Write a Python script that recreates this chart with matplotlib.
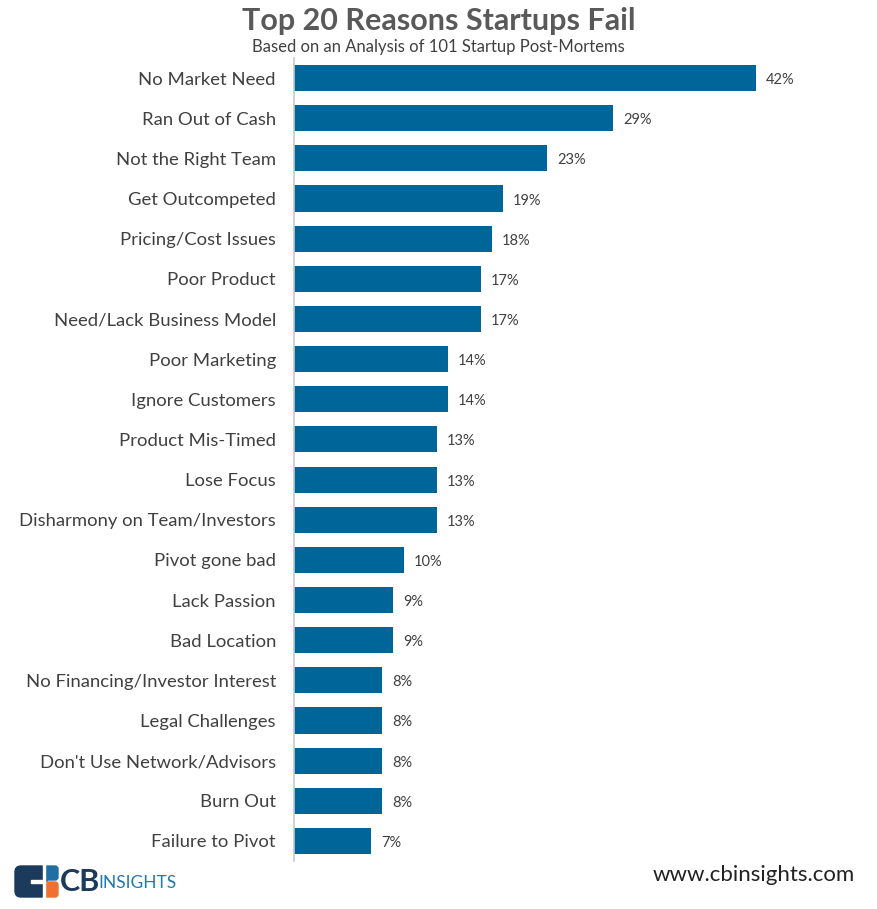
import matplotlib.pyplot as plt
from matplotlib.patches import FancyBboxPatch, Rectangle

# -----------------------------
# Data
# -----------------------------
reasons = [
    "No Market Need", "Ran Out of Cash", "Not the Right Team", "Get Outcompeted",
    "Pricing/Cost Issues", "Poor Product", "Need/Lack Business Model",
    "Poor Marketing", "Ignore Customers", "Product Mis-Timed", "Lose Focus",
    "Disharmony on Team/Investors", "Pivot gone bad", "Lack Passion",
    "Bad Location", "No Financing/Investor Interest", "Legal Challenges",
    "Don't Use Network/Advisors", "Burn Out", "Failure to Pivot",
]
pct = [42, 29, 23, 19, 18, 17, 17, 14, 14, 13, 13, 13, 10, 9, 9, 8, 8, 8, 8, 7]

title = "Top 20 Reasons Startups Fail"
subtitle = "Based on an Analysis of 101 Startup Post-Mortems"

bar_color = "#00669a"
text_color = "#404040"
plt.rcParams['font.family'] = ['Lato', 'DejaVu Sans']

# -----------------------------
# Figure / axes
# -----------------------------
fig = plt.figure(figsize=(8.77, 9.09), dpi=100)
ax = fig.add_axes([294 / 877, 1 - 861 / 909, 550 / 877, 803 / 909])

y = list(range(len(reasons)))
ax.barh(y, pct, height=0.65, color=bar_color, zorder=2)
ax.set_ylim(len(reasons) - 0.5, -0.5)
ax.set_xlim(0, 50)

ax.set_yticks(y)
ax.set_yticklabels(reasons, fontsize=13.3, color=text_color)
ax.tick_params(axis='y', length=0, pad=13)
ax.set_xticks([])

for s in ["top", "right", "bottom"]:
    ax.spines[s].set_visible(False)
ax.spines["left"].set_color("#c8c8c8")
ax.spines["left"].set_linewidth(1.2)

for yi, v in zip(y, pct):
    ax.text(v + 0.9, yi + 0.05, f"{v}%", va='center', ha='left', fontsize=10.5,
            color=text_color)

# -----------------------------
# Titles
# -----------------------------
fig.text(0.5, 1 - 21 / 909, title, ha='center', va='center',
         fontsize=22, fontweight='bold', color="#595959")
fig.text(0.5, 1 - 47 / 909, subtitle, ha='center', va='center',
         fontsize=12, color=text_color)

# -----------------------------
# Footer: logo + url
# -----------------------------
fig.text(855 / 877, 1 - 875 / 909, "www.cbinsights.com", ha='right', va='center',
         fontsize=16, color="#222222")

# logo drawn in pixel units of the bottom-left corner
logo = fig.add_axes([0, 0, 300 / 877, 69 / 909])
logo.set_xlim(0, 300)
logo.set_ylim(909, 840)
logo.axis('off')
logo.add_patch(FancyBboxPatch((15, 866), 32, 31, boxstyle="round,pad=0,rounding_size=6",
                              color="#1b3a5c"))
logo.add_patch(FancyBboxPatch((44, 866), 14, 14, boxstyle="round,pad=0,rounding_size=3",
                              color="#1f6fa3"))
logo.add_patch(FancyBboxPatch((44, 882), 14, 15, boxstyle="round,pad=0,rounding_size=3",
                              color="#f07030"))
logo.add_patch(Rectangle((43, 862), 2, 38, color="white"))
logo.add_patch(Rectangle((31, 880), 14, 2.5, color="white"))
logo.text(60, 882, "CB", ha='left', va='center', fontsize=22, fontweight='bold',
          color="#1b3a5c")
logo.text(98, 883, "INSIGHTS", ha='left', va='center', fontsize=12.5, color="#1f7ab0")

fig.savefig("out.png", dpi=100, facecolor="white")
